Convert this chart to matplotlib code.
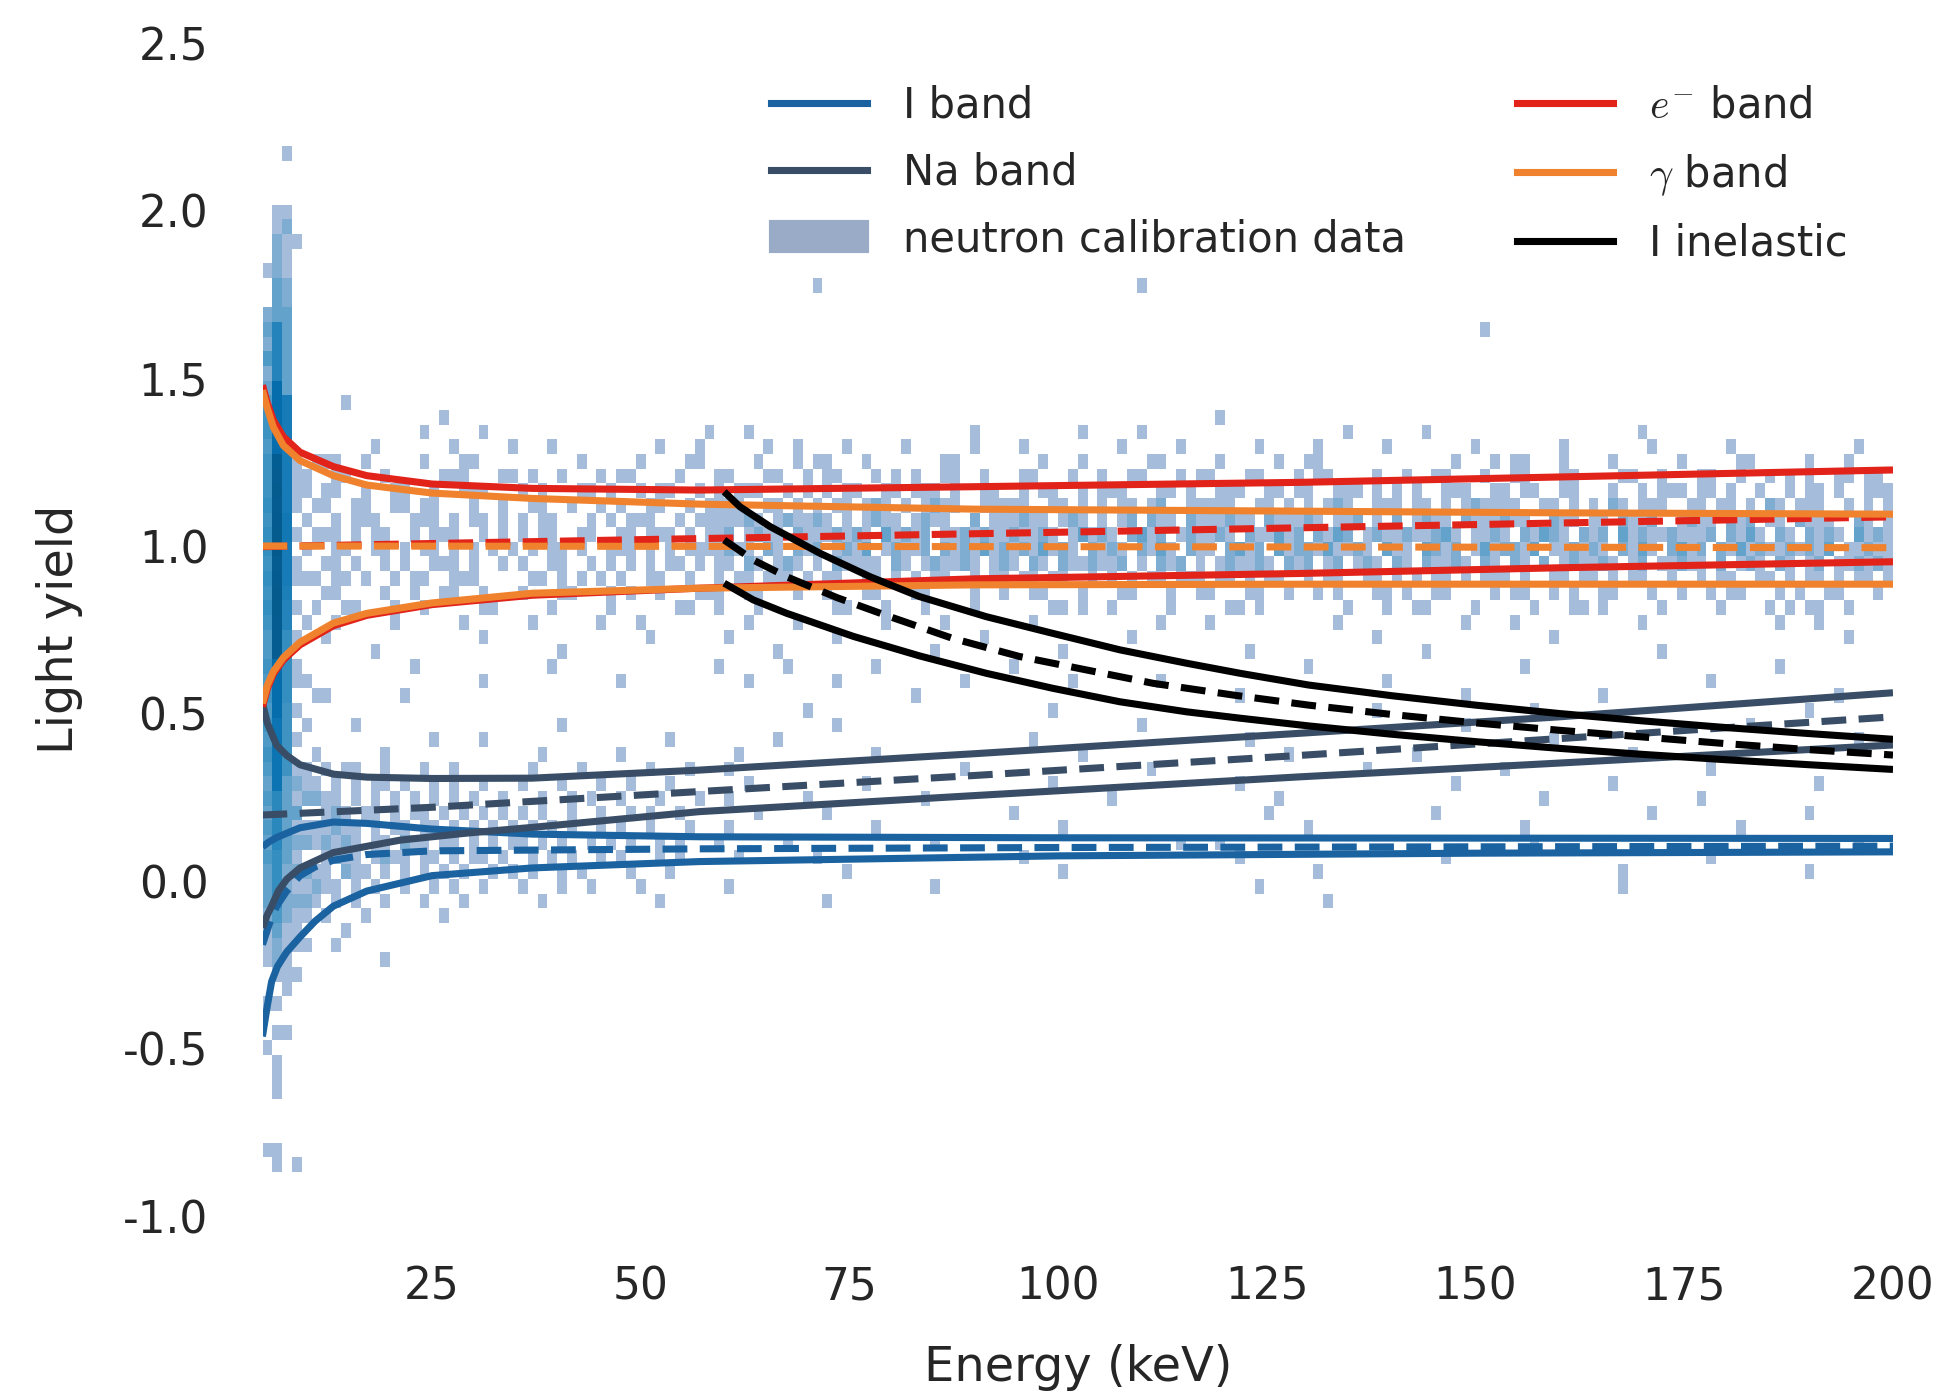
import numpy as np
import matplotlib
matplotlib.use("Agg")
import matplotlib.pyplot as plt
from matplotlib.colors import LogNorm
from matplotlib.lines import Line2D
from matplotlib.patches import Patch

plt.rcParams["font.family"] = ["DejaVu Sans"]
plt.rcParams["mathtext.fontset"] = "cm"

# ---------------------------------------------------------------------------
# neutron calibration data, binned: 170 energy bins (0-200 keV) x 80 light
# yield bins (-1.0-2.5). Counts are one base-36 char per bin, '.' = empty.
# ---------------------------------------------------------------------------
energy_edges = np.linspace(0.0, 200.0, 171)
yield_edges = np.linspace(-1.0, 2.5, 81)

# lowest energy bins, one string per bin, yield rows 0..73 bottom to top
low_cols = [4, 5, 6, 7, 8, 9]
low_col_counts = [
    "....1..... .1..1..111 2333434343 4545454544 5656566565 5545543242 32..1..... ....",
    "...11...11 1.1.1.1223 466667777c ccccffffuu uwxvuxwvuw utfffff888 833322211. ....",
    ".......... ..1..11111 2222333333 5555566666 889aaabbaa aaaaaa3333 332211121. ..1.",
    "...1...... ......1.11 1212121312 1.1.1.11.1 .1.11.1.11 11........ ......1... ....",
    ".......... ........1. 1212.21.21 1..1..1... 1..1.1.1.1 1......... .......... ....",
    ".......... .......... .121.11.21 .1...1.... .1.1..1.1. .1........ .......... ....",
]

# e/gamma band region, energy bins 10..169 (chunks of 10 bins)
band_rows = [53, 52, 51, 50, 49, 48, 47, 46, 45, 44, 43, 42, 41, 40, 39, 38]
band_counts = [
    ".......... 1.....1... .......... .........1 ...1...... .......... ......1... .......1.. ...1...... .......... ....1..... ..1....... .......... ....1..... .......... ..........",
    ".....1.... ...1.....1 ...1...... ....1...1. .....1..1. ...1.....1 ......1... .1........ .1.....1.. .....1.... .1......1. .......1.. ......1... .....1.... ...1...... ......1...",
    "11..1..... 1...11.... ......1... ..1....11. ....1...1. 11...1.... ...11..... ...1...1.. ....11.... .1.....1.. 11........ .....1...1 .11...1... .1......1. ....11.... .1...1....",
    ".11...1... ..111...11 .1..1...1. 11....1... 11...11..1 .11...1.1. 1..11..1.. .11...1..1 ..11...1.1 1...11...1 .11....1.. 1..11...1. .11...11.. ..11..1... 11..1..1.1 .1..11.11.",
    "11..1..11. .1..111... 1.1...11.1 ..1.11..1. 1.111..1.1 .1.11..11. 111.1..11. .1.11..1.1 11...11.1. .111..11.1 1..111.1.1 .1..111..1 1.11..11.. .1..1.111. 11.1..1..1 .11.1..111",
    "1..11..11. 11...1..1. .11..1..1. 1..11..1.1 111..11.1. 1.11.121.1 .1211..111 11..11.1.1 .11.12..11 111..11.1. 1.121..111 .11.1.1211 11..11.1.1 .21.111..1 1.11.1.21. 111..1.1.1",
    ".1.111...1 11.1.11.1. 1.11...1.1 .111..1.11 11121.1211 21.1.1211. 1211..2.11 1211.121.1 .12.211.21 11211.2111 21.112.1.2 .1211.2111 211..211.1 1.2112..12 11.212.11. 2111..21.1",
    "11.1.11..1 .111..1.1. 1.11..11.. 11.111.1.1 12.1211.21 112121.312 12.1121211 21121.1312 1.2312.121 121.211312 .2132.1211 211231.112 1.21321.21 2.31211211 12.2131.21 .2121.3121",
    ".11..11.1. 11.1.1.1.1 .1.11.1..1 11.1.1.111 1211.21.21 2.1213.121 12.2121312 1213121.21 21.2131.21 1.2312.312 2131121.31 1.3212.131 2213.11212 1.2131.231 2.21312112 1213.11211",
    "11.1..1.1. .111.1..1. 1..11..1.1 .1.1.11.1. 11.21.121. 1.21111.21 .121121.12 1.21.21121 12.1.212.1 .121121.21 2.12.121.2 1.21121.21 .21.2.1211 21.12.1121 1.2.121.21 .12.112121",
    ".11.1..1.1 1..111.... .11.1.1.1. 1..11..1.. 1.11.111.1 .11..11.1. 1.11..1.11 .11.11..1. 1.1.11.111 .11.1.11.. 1.11..11.1 .1.11.1.11 1.1..11.11 .1.11..1.. 1.11..11.1 .11.1.11.1",
    "11....1..1 ..11..1... 1...11...1 .1..1...11 1..11...1. .1...11... 11....1..1 ..11...1.. .11...1..1 1...11..1. .1.1...11. 1..11....1 .11..1.1.. 11...1..1. .1.11...1. 1..11...1.",
    "..11...1.. 1.....11.. ...1.....1 ......11.. 1...1..... ..11...1.. .1....1... ....11.1.. 1.....1... ..11.1.... ....1...1. .11....1.. ...1...11. 1.....1... ..1....1.1 .11..1....",
    ".1.....1.. ....1..... .1......1. ..1....... ...1....1. .......1.. ...1...... ..1....... .....1.... 1......... ...1...... ......1... .1........ ....1..... ........1. ..1.......",
    "1......... ......1... .......... ...1...... .1........ ..1....... .......1.. .......... ..1....... .......... .......1.. .......... .....1.... .......... .......... .....1....",
    ".....1.... .......... ....1..... .......... ......1... .......... ..1....... .....1.... .......... ....1..... .......... ..1....... .......... ......1... .......... ..........",
]

# nuclear recoil region, energy bins 10..169
lower_rows = [34, 33, 32, 31, 30, 29, 28, 27, 26, 25, 24, 23, 22, 21, 20, 19]
lower_counts = [
    ".......... .......... .......... .......... .........1 .......... .......... ....1..... .......... .......... .......1.. .......... ...1...... .......... .......... .1........",
    "...1...... .......... ....1..... .......... .......... ..1....... .......... .......... ...1...... .......... .......... ......1... .......... .......... .....1.... ..........",
    ".......... .1....1... .......... .....1.... ......1... .......... .......... ..1....... .......... ....1..... .......... .......... .....1.... .......... .......... ......1...",
    "......1... .......... ..1....... 1......... ..1....... ......1... .......... .......1.. .......... ........1. .......... .1........ .......... ...1...... .......... ..........",
    "1.11..1... 1..1...... .1....1... ...1...1.. .1........ .......... .....1.... .......... ....1..... .......... ......1... .......... 1......... .......... .1........ ..........",
    ".1.1.11.1. .1.1..1... 1...1...1. .1...1.... ...1...... .....1.... .......... ....1..... .......... ...1...... .......... .....1.... .......... .1........ .......... ..1.......",
    "11.1.1.1.1 .1.1.1..1. ..1..1.1.. 1...1...1. .1.......1 .......... .1........ .......... 1......... .......1.. .......... .......... ....1..... .......... 1......... ..........",
    "121.11.1.1 1.1.1.1.1. 1.1..1..1. .1.1..1... ....1..... .1........ .......... 1......... .......... ......1... .......... ...1...... .......... .....1.... .......... .1........",
    "1211.1.11. 11.1.1.1.1 .1.1.1..1. 1..1...1.. .1........ ......1... .......... .....1.... .......... .......... 1......... .......... ..1....... .......... ....1..... ..........",
    "2121.11.21 1.11.1.1.1 1.1.1..1.1 .1..1.1... 1......1.. .......... ..1....... .......... .......1.. .1........ .......... .......... ...1...... .......... .......... ......1...",
    "1211.1211. 11.1.11.1. .1.1.1..1. 1...1.1... ..1....... 1......... .......... .1........ .......... ...1...... .......... ....1..... .......... .......... .1........ ..........",
    "1.211.1.1. 1.1.1..1.1 .1..1.1... .1...1.... .......... ...1...... .......... .....1.... .......... .......... .1........ .......... .......... ..1....... .......... .1........",
    "11.1.1..1. .1.1..1... 1...1..1.. ..1....... .1........ .......... ..1....... .......... .......... .....1.... .......... .......... .......... ..1....... .......... ..........",
    ".1.1..1... 1...1..... ..1....... ....1..... .......... .1........ .......... .......... .......... .......... ..1....... .......... .......... .......... .......... ..........",
    "1...1..... ..1....... .......... .......... .......... .......... .......... .......... .......... .......... .......... .......... .......... .......... .......... ..........",
    "..1....... .......... .......... .......... .......... .......... .......... .......... .......... .......... .......... .......... .......... .......... .......... ..........",
]

# isolated single-count bins (energy bin, yield bin)
stray_cols = [12, 60, 93, 128, 22, 101, 10, 18, 19, 26, 33, 40, 50, 53, 57, 62, 66,
              70, 75, 80, 86, 95, 103, 110, 118, 126, 132, 140, 151, 158, 164, 11, 16]
stray_rows = [55, 63, 63, 60, 54, 54, 35, 35, 37, 36, 37, 36, 37, 36, 37, 36, 37,
              35, 36, 37, 36, 36, 35, 37, 36, 35, 37, 35, 36, 37, 35, 18, 17]

# ---------------------------------------------------------------------------
# band fits: mean (dashed) and upper / lower bounds (solid)
# ---------------------------------------------------------------------------
i_hi_e = [4.7, 5.5, 6.4, 9.2, 13.2, 17.2, 25, 37, 57, 100, 150, 200]
i_hi = [0.102, 0.117, 0.13, 0.159, 0.176, 0.172, 0.155, 0.14, 0.132, 0.129, 0.128, 0.127]
i_mid_e = [4.7, 5.5, 6.4, 7.6, 9.2, 11, 13.2, 17.2, 25, 57, 100, 200]
i_mid = [-0.19, -0.13, -0.075, -0.03, 0.016, 0.042, 0.062, 0.079, 0.09, 0.096, 0.1, 0.104]
i_lo_e = [4.7, 5.3, 5.8, 6.5, 7.6, 9.2, 11, 13.2, 17.2, 25, 37, 57, 100, 150, 200]
i_lo = [-0.464, -0.37, -0.30, -0.255, -0.212, -0.167, -0.12, -0.075, -0.03, 0.016, 0.039,
        0.058, 0.075, 0.083, 0.087]

na_hi_e = [4.7, 5.3, 6.4, 7.6, 9.2, 13.2, 17.2, 25, 37, 57, 90, 129, 160, 200]
na_hi = [0.531, 0.47, 0.405, 0.375, 0.347, 0.319, 0.31, 0.306, 0.307, 0.331, 0.38, 0.441, 0.49, 0.562]
na_mid_e = [4.7, 25, 57, 90, 129, 160, 200]
na_mid = [0.197, 0.22, 0.267, 0.315, 0.375, 0.425, 0.49]
na_lo_e = [4.7, 5.3, 5.8, 6.6, 7.6, 9.2, 13.2, 21.2, 29.2, 37, 57, 90, 129, 160, 200]
na_lo = [-0.14, -0.10, -0.075, -0.03, 0.005, 0.039, 0.085, 0.122, 0.143, 0.16, 0.207, 0.255,
         0.311, 0.352, 0.406]

eg_e = [4.7, 5.3, 6.0, 7.2, 9.2, 13.2, 17.2, 25, 37, 57, 90, 129, 160, 200]
e_hi = [1.48, 1.425, 1.376, 1.326, 1.28, 1.237, 1.21, 1.185, 1.172, 1.167, 1.177, 1.19, 1.206, 1.227]
e_lo = [0.52, 0.575, 0.618, 0.66, 0.705, 0.762, 0.793, 0.825, 0.853, 0.874, 0.902, 0.918, 0.935, 0.953]
e_mid_e = [4.7, 50, 100, 150, 200]
e_mid = [0.998, 1.019, 1.041, 1.064, 1.087]
g_hi = [1.465, 1.41, 1.355, 1.30, 1.255, 1.21, 1.182, 1.158, 1.142, 1.125, 1.11, 1.104, 1.099, 1.095]
g_lo = [0.53, 0.585, 0.625, 0.667, 0.713, 0.77, 0.799, 0.83, 0.859, 0.874, 0.884, 0.886, 0.886, 0.886]
g_mid_e = [4.7, 100, 200]
g_mid = [1.0, 0.998, 0.995]

in_hi_e = [60, 61.9, 65.5, 71.5, 77.5, 83.4, 91.4, 99.4, 107.4, 115.4, 121.8, 130, 140, 150,
           160, 170, 180, 190, 200]
in_hi = [1.162, 1.117, 1.058, 0.978, 0.908, 0.849, 0.789, 0.739, 0.69, 0.65, 0.62, 0.585, 0.553,
         0.525, 0.50, 0.478, 0.458, 0.44, 0.423]
in_mid_e = [60, 63.5, 67.5, 73.5, 79.5, 87.4, 95.4, 103.4, 111.4, 121, 130, 140, 150, 160, 170,
            180, 190, 200]
in_mid = [1.018, 0.958, 0.908, 0.846, 0.792, 0.724, 0.67, 0.63, 0.59, 0.555, 0.525, 0.497, 0.472,
          0.45, 0.43, 0.41, 0.392, 0.376]
in_lo_e = [60, 63.5, 67.5, 75.5, 83.4, 91.4, 99.4, 107.4, 115.4, 121.8, 130, 140, 150, 160, 170,
           180, 190, 200]
in_lo = [0.889, 0.839, 0.799, 0.73, 0.672, 0.62, 0.575, 0.535, 0.505, 0.486, 0.463, 0.438, 0.416,
         0.396, 0.378, 0.362, 0.347, 0.333]

xtick_vals = [25, 50, 75, 100, 125, 150, 175, 200]
ytick_vals = [-1.0, -0.5, 0.0, 0.5, 1.0, 1.5, 2.0, 2.5]


def decode(s):
    return [0 if ch == "." else int(ch, 36) for ch in s.replace(" ", "")]


e_mid_bins = 0.5 * (energy_edges[:-1] + energy_edges[1:])
y_mid_bins = 0.5 * (yield_edges[:-1] + yield_edges[1:])
cell_e, cell_y, cell_n = [], [], []

for col, s in zip(low_cols, low_col_counts):
    for row, n in enumerate(decode(s)):
        if n:
            cell_e.append(e_mid_bins[col])
            cell_y.append(y_mid_bins[row])
            cell_n.append(n)

for rows, strings in ((band_rows, band_counts), (lower_rows, lower_counts)):
    for row, s in zip(rows, strings):
        for i, n in enumerate(decode(s)):
            if n:
                cell_e.append(e_mid_bins[10 + i])
                cell_y.append(y_mid_bins[row])
                cell_n.append(n)

for col, row in zip(stray_cols, stray_rows):
    cell_e.append(e_mid_bins[col])
    cell_y.append(y_mid_bins[row])
    cell_n.append(1)

# ---------------------------------------------------------------------------
W, H, DPI = 1951, 1395, 300
fig = plt.figure(figsize=(W / DPI, H / DPI), dpi=DPI)
ax = fig.add_axes([262.5 / W, 1 - 1216 / H, (1893 - 262.5) / W, (1216 - 43.5) / H])

ax.hist2d(cell_e, cell_y, bins=[energy_edges, yield_edges], weights=cell_n,
          cmap="PuBu", norm=LogNorm(vmin=0.07, vmax=80), cmin=0.5, zorder=1)

c_i, c_na, c_e, c_g = "#1a62a0", "#394e66", "#e2231a", "#f0822e"
lw = 1.7
dash = (3.5, 1.75)

bands = [
    (c_i, (i_hi_e, i_hi), (i_mid_e, i_mid), (i_lo_e, i_lo)),
    (c_na, (na_hi_e, na_hi), (na_mid_e, na_mid), (na_lo_e, na_lo)),
    (c_e, (eg_e, e_hi), (e_mid_e, e_mid), (eg_e, e_lo)),
    (c_g, (eg_e, g_hi), (g_mid_e, g_mid), (eg_e, g_lo)),
    ("k", (in_hi_e, in_hi), (in_mid_e, in_mid), (in_lo_e, in_lo)),
]
for z, (color, hi, mid, lo) in enumerate(bands):
    ax.plot(*hi, color=color, lw=lw, zorder=3 + z, solid_capstyle="butt")
    ax.plot(*lo, color=color, lw=lw, zorder=3 + z, solid_capstyle="butt")
    ax.plot(*mid, color=color, lw=lw, dashes=dash, zorder=3 + z)

ax.set_xlim(energy_edges[4], 200)
ax.set_ylim(-1.0, 2.5)
ax.set_xticks(xtick_vals)
ax.set_xticklabels([str(v) for v in xtick_vals])
ax.set_yticks(ytick_vals)
ax.set_yticklabels([f"{v:.1f}" for v in ytick_vals])
for sp in ax.spines.values():
    sp.set_visible(False)
ax.tick_params(axis="both", length=0, labelsize=10.5, labelcolor="#262626")
ax.tick_params(axis="x", pad=12)
ax.tick_params(axis="y", pad=13)

ax.set_xlabel("Energy (keV)", fontsize=11.5, color="#262626")
ax.set_ylabel("Light yield", fontsize=11.5, color="#262626")
ax.xaxis.set_label_coords(0.5, -0.109)
ax.yaxis.set_label_coords(-0.110, 0.5)

handles = [
    Line2D([], [], color=c_i, lw=lw),
    Line2D([], [], color=c_na, lw=lw),
    Patch(color="#9aabc8"),
    Line2D([], [], color=c_e, lw=lw),
    Line2D([], [], color=c_g, lw=lw),
    Line2D([], [], color="k", lw=lw),
]
labels = ["I band", "Na band", "neutron calibration data",
          r"$e^{-}$ band", r"$\gamma$ band", "I inelastic"]
leg = ax.legend(handles, labels, ncol=2, loc="upper left",
                bbox_to_anchor=(771 / W, 1 - 85 / H), bbox_transform=fig.transFigure,
                frameon=False, fontsize=10, handlelength=2.3, handletextpad=0.86,
                columnspacing=2.68, labelspacing=0.59, borderpad=0, borderaxespad=0)
for t in leg.get_texts():
    t.set_color("#262626")

fig.savefig("out.png", dpi=DPI)
